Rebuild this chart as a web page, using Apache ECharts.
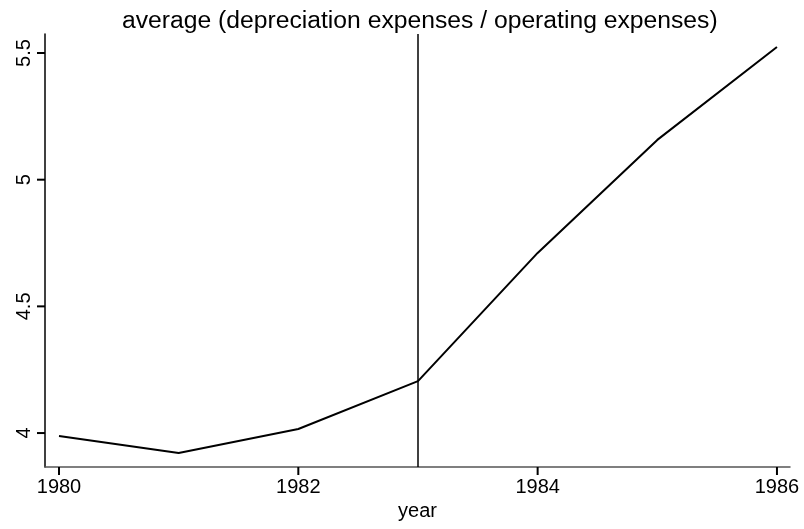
<!DOCTYPE html>
<html>
<head>
<meta charset="utf-8">
<script src="https://cdn.jsdelivr.net/npm/echarts@6/dist/echarts.min.js"></script>
<style>
  html, body { margin: 0; padding: 0; background: #fff; }
  #chart { width: 804px; height: 529px; }
</style>
</head>
<body>
<div id="chart"></div>
<script>
// data
var years = [1980, 1981, 1982, 1983, 1984, 1985, 1986];
var ratio = [3.988, 3.921, 4.016, 4.205, 4.711, 5.157, 5.524];
var xTicks = [1980, 1982, 1984, 1986];
var yTicks = [4, 4.5, 5, 5.5];
var eventYear = 1983;

var xMin = 1979.883, xMax = 1986.109;
var yMin = 3.866, yMax = 5.575;

var points = [];
for (var i = 0; i < years.length; i++) {
  points.push([years[i], ratio[i]]);
}

var font = 'Liberation Sans';

var chart = echarts.init(document.getElementById('chart'));
chart.setOption({
  animation: false,
  title: {
    text: 'average (depreciation expenses / operating expenses)',
    left: 117,
    top: 4,
    textStyle: { fontFamily: font, fontSize: 24.7, fontWeight: 'normal', color: '#000' }
  },
  grid: { left: 45, right: 14, top: 34, bottom: 62, outerBoundsMode: 'none' },
  xAxis: {
    type: 'value',
    min: xMin,
    max: xMax,
    name: 'year',
    nameLocation: 'middle',
    nameGap: 34,
    nameTextStyle: { fontFamily: font, fontSize: 20, color: '#000' },
    axisLine: { show: true, lineStyle: { color: '#555', width: 1.5 } },
    axisTick: { show: false },
    axisLabel: {
      customValues: xTicks,
      fontFamily: font, fontSize: 20, color: '#000', margin: 10,
      formatter: function (v) { return String(v); }
    },
    splitLine: { show: false }
  },
  yAxis: {
    type: 'value',
    min: yMin,
    max: yMax,
    axisLine: { show: true, lineStyle: { color: '#000', width: 1.5 } },
    axisTick: { show: false },
    axisLabel: {
      customValues: yTicks,
      rotate: 90,
      fontFamily: font, fontSize: 20, color: '#000', margin: 11,
      formatter: function (v) { return String(v); }
    },
    splitLine: { show: false }
  },
  series: [{
    type: 'line',
    data: points,
    symbol: 'none',
    lineStyle: { color: '#000', width: 2 },
    markLine: {
      silent: true,
      symbol: 'none',
      label: { show: false },
      lineStyle: { color: '#000', type: 'solid', width: 1.5 },
      data: [{ xAxis: eventYear }]
    }
  }]
});

// tick marks, placed with the chart's own scales
var ticks = [];
xTicks.forEach(function (v) {
  var p = chart.convertToPixel({ gridIndex: 0 }, [v, yMin]);
  ticks.push({ type: 'line', z: 100, shape: { x1: p[0], y1: p[1], x2: p[0], y2: p[1] + 8 }, style: { stroke: '#000', lineWidth: 2 } });
});
yTicks.forEach(function (v) {
  var p = chart.convertToPixel({ gridIndex: 0 }, [xMin, v]);
  ticks.push({ type: 'line', z: 100, shape: { x1: p[0] - 8, y1: p[1], x2: p[0], y2: p[1] }, style: { stroke: '#000', lineWidth: 2 } });
});
chart.setOption({ graphic: ticks });
</script>
</body>
</html>
